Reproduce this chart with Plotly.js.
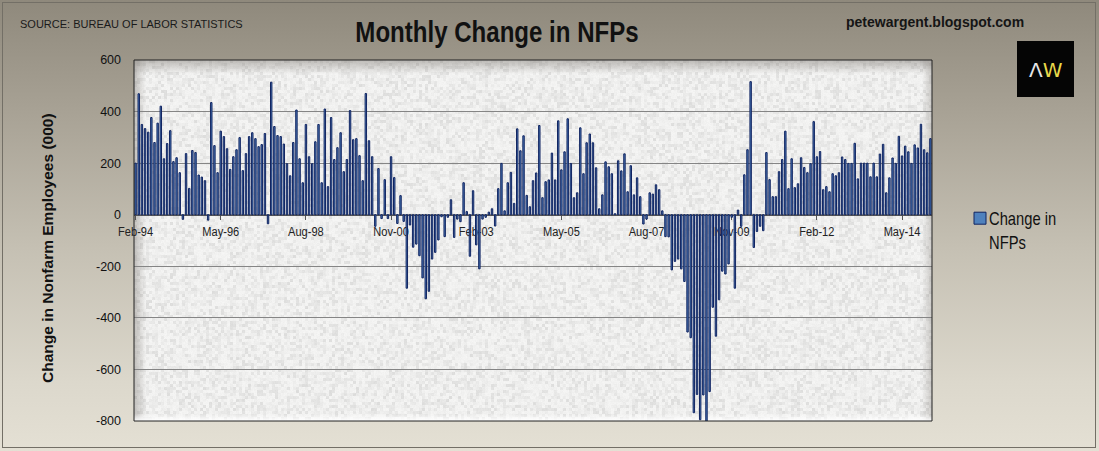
<!DOCTYPE html>
<html>
<head>
<meta charset="utf-8">
<script src="https://cdn.plot.ly/plotly-3.0.1.min.js"></script>
<style>
html, body { margin: 0; padding: 0; }
#wrap {
  position: relative; width: 1099px; height: 451px; overflow: hidden;
  background: linear-gradient(to bottom, #8f897c 0%, #a8a295 25%, #c5c0b3 55%, #dcd8cc 85%, #e4e0d4 100%);
}
#chart { position: absolute; left: 0; top: 0; width: 1099px; height: 451px; }
#frame {
  position: absolute; left: 2px; top: 2px; width: 1092px; height: 444px;
  border: 1px solid #736f66; pointer-events: none;
}
/* the reference uses a narrow face; squeeze the regular one */
#chart .gtitle { transform-box: fill-box; transform-origin: 50% 50%; transform: scaleX(0.83); }
#chart .legendtext { transform-box: fill-box; transform-origin: 0 50%; transform: translateX(-11px) scaleX(0.82); }
#chart .legendbar { transform: scale(0.72); }
#chart g.xtick { transform-box: fill-box; transform-origin: 50% 50%; transform: scaleX(0.82); }
</style>
</head>
<body>
<div id="wrap"><div id="chart"></div><div id="frame"></div></div>
<script>
// monthly change in nonfarm payrolls, thousands (Feb-94 .. Feb-15)
var nfp1994to1999 = [
  200, 469, 350, 334, 320, 377, 280, 355, 421, 217, 276,
  326, 206, 221, 163, -18, 237, 102, 249, 241, 154, 146, 132,
  -21, 435, 268, 163, 324, 303, 256, 176, 225, 252, 299, 171,
  237, 303, 318, 295, 264, 272, 315, -35, 514, 342, 307, 303,
  274, 198, 151, 280, 406, 217, 124, 350, 225, 198, 283, 350,
  124, 410, 109, 377, 214, 260, 318, 167, 214, 404, 291, 295
];
var nfp2000to2004 = [
  229, 132, 470, 287, 225, -45, 179, -15, 136, -15, 225, 144,
  -34, 74, -26, -285, -40, -126, -114, -159, -245, -326, -297, -172,
  -146, -98, -8, -85, -10, 58, -88, -17, -27, 124, 12, -161,
  93, -117, -210, -17, -10, 10, 23, -44, 101, 199, 15, 124,
  164, 44, 333, 248, 306, 75, 31, 132, 162, 346, 66, 128
];
var nfp2005to2009 = [
  135, 239, 135, 364, 174, 244, 372, 199, 66, 85, 337, 159,
  279, 313, 279, 182, 23, 77, 205, 186, 159, 4, 209, 170,
  236, 89, 190, 77, 143, 70, -36, -17, 85, 80, 116, 97,
  15, -85, -86, -214, -181, -172, -210, -259, -455, -477, -768, -697,
  -795, -699, -805, -686, -359, -471, -330, -219, -230, -191, -10, -285
];
var nfp2010to2015 = [
  18, -45, 155, 252, 516, -127, -65, -45, -62, 241, 136, 70,
  70, 167, 214, 324, 101, 217, 105, 120, 221, 183, 163, 198,
  361, 225, 245, 97, 109, 89, 159, 151, 163, 224, 214, 199,
  199, 277, 139, 200, 200, 200, 147, 200, 147, 235, 273, 85,
  143, 220, 199, 304, 228, 266, 244, 199, 271, 259, 351, 252,
  240, 295
];
var MONTHS = ['Jan','Feb','Mar','Apr','May','Jun','Jul','Aug','Sep','Oct','Nov','Dec'];
var tickLabels = ['Feb-94','May-96','Aug-98','Nov-00','Feb-03','May-05','Aug-07','Nov-09','Feb-12','May-14'];
var yTicks = [-800, -600, -400, -200, 0, 200, 400, 600];

var values = nfp1994to1999.concat(nfp2000to2004, nfp2005to2009, nfp2010to2015);
var months = [];
for (var i = 0; i < values.length; i++) {
  var k = i + 1; // series starts in Feb 1994
  months.push(MONTHS[k % 12] + '-' + String(1994 + Math.floor(k / 12)).slice(2));
}

// plot area in pixels
var L = 134, R = 932, T = 60, B = 421;
function px(x) { return (x - L) / (R - L); }
function py(y) { return (B - y) / (B - T); }

var NARROW = "'Liberation Sans Narrow', 'Arial Narrow', 'Liberation Sans', sans-serif";
var SANS = "'Liberation Sans', Arial, sans-serif";

// light mottled plot background with a soft bevel
function makeTexture(w, h) {
  var c = document.createElement('canvas');
  c.width = w; c.height = h;
  var ctx = c.getContext('2d');
  var img = ctx.createImageData(w, h);
  var seed = 987654;
  function rnd() { seed = (seed * 1103515245 + 12345) & 0x7fffffff; return seed / 0x7fffffff; }
  var cw = Math.ceil(w / 3) + 1, ch = Math.ceil(h / 3) + 1, cell = [];
  for (var j = 0; j < cw * ch; j++) cell.push(rnd());
  for (var y = 0; y < h; y++) {
    for (var x = 0; x < w; x++) {
      var r = cell[Math.floor(y / 3) * cw + Math.floor(x / 3)];
      var v = 246 - Math.pow(r, 2) * 22 - rnd() * 5;
      var p = (y * w + x) * 4;
      img.data[p] = v; img.data[p + 1] = v; img.data[p + 2] = v - 1; img.data[p + 3] = 255;
    }
  }
  ctx.putImageData(img, 0, 0);
  var g = ctx.createLinearGradient(0, 0, 0, 14);
  g.addColorStop(0, 'rgba(120,115,108,0.45)'); g.addColorStop(1, 'rgba(120,115,108,0)');
  ctx.fillStyle = g; ctx.fillRect(0, 0, w, 14);
  g = ctx.createLinearGradient(0, 0, 12, 0);
  g.addColorStop(0, 'rgba(120,115,108,0.4)'); g.addColorStop(1, 'rgba(120,115,108,0)');
  ctx.fillStyle = g; ctx.fillRect(0, 0, 12, h);
  g = ctx.createLinearGradient(w, 0, w - 10, 0);
  g.addColorStop(0, 'rgba(130,125,118,0.35)'); g.addColorStop(1, 'rgba(130,125,118,0)');
  ctx.fillStyle = g; ctx.fillRect(w - 10, 0, 10, h);
  g = ctx.createLinearGradient(0, h, 0, h - 7);
  g.addColorStop(0, 'rgba(255,255,255,0.95)'); g.addColorStop(1, 'rgba(255,255,255,0)');
  ctx.fillStyle = g; ctx.fillRect(0, h - 7, w, 7);
  return c.toDataURL();
}

var trace = {
  type: 'bar',
  name: 'Change in<br>NFPs',
  x: months,
  y: values,
  marker: { color: '#4f81bd', line: { color: '#112461', width: 1 } },
  hoverinfo: 'x+y'
};

var layout = {
  width: 1099,
  height: 451,
  margin: { l: L, r: 1099 - R, t: T, b: 451 - B, pad: 0, autoexpand: false },
  paper_bgcolor: 'rgba(0,0,0,0)',
  plot_bgcolor: 'rgba(0,0,0,0)',
  bargap: 0.55,
  showlegend: true,
  title: {
    text: '<b>Monthly Change in NFPs</b>',
    font: { family: NARROW, size: 29, color: '#111' },
    xref: 'container', x: 497 / 1099, xanchor: 'center',
    yref: 'container', y: 1 - 32 / 451, yanchor: 'middle'
  },
  xaxis: {
    type: 'category',
    range: [-0.5, values.length - 0.5],
    anchor: 'free',
    position: 800 / 1400,
    layer: 'below traces',
    showline: true, linecolor: '#555', linewidth: 1,
    showgrid: false,
    tickmode: 'array',
    tickvals: tickLabels,
    ticktext: tickLabels,
    ticks: 'outside', ticklen: 4, tickcolor: '#555',
    tickfont: { family: NARROW, size: 13.5, color: '#222' },
    fixedrange: true
  },
  yaxis: {
    range: [-800, 600],
    tickmode: 'array',
    tickvals: yTicks,
    ticktext: yTicks.map(String),
    showgrid: true, gridcolor: '#858585', gridwidth: 1,
    zeroline: false,
    ticks: '', ticklabelstandoff: 12,
    tickfont: { family: SANS, size: 12.5, color: '#111' },
    fixedrange: true
  },
  legend: {
    x: px(960), xanchor: 'left',
    y: py(200), yanchor: 'top',
    bgcolor: 'rgba(0,0,0,0)',
    valign: 'top',
    itemwidth: 30,
    font: { family: NARROW, size: 18, color: '#111' }
  },
  images: [{
    source: makeTexture(R - L, B - T),
    xref: 'paper', yref: 'paper', x: 0, y: 1, sizex: 1, sizey: 1,
    xanchor: 'left', yanchor: 'top', sizing: 'stretch', layer: 'below'
  }],
  shapes: [
    { type: 'rect', xref: 'paper', yref: 'paper', x0: 0, x1: 1, y0: 0, y1: 1,
      line: { color: '#222', width: 1 }, fillcolor: 'rgba(0,0,0,0)' },
    { type: 'rect', xref: 'paper', yref: 'paper', x0: px(1017), x1: px(1074), y0: py(97), y1: py(41),
      line: { width: 0 }, fillcolor: '#050505' }
  ],
  annotations: [
    { text: 'SOURCE: BUREAU OF LABOR STATISTICS', xref: 'paper', yref: 'paper',
      x: px(18), y: py(24), xanchor: 'left', yanchor: 'middle', showarrow: false,
      font: { family: SANS, size: 11, color: '#1a1a1a' } },
    { text: '<b>petewargent.blogspot.com</b>', xref: 'paper', yref: 'paper',
      x: px(935), y: py(22), xanchor: 'center', yanchor: 'middle', showarrow: false,
      font: { family: SANS, size: 14, color: '#151515' } },
    { text: "<span style='color:#e6e6e6'>Λ</span><span style='color:#e8d84a'>W</span>",
      xref: 'paper', yref: 'paper', x: px(1045.5), y: py(70), xanchor: 'center', yanchor: 'middle',
      showarrow: false, font: { family: "'DejaVu Sans', sans-serif", size: 20 } },
    { text: '<b>Change in Nonfarm Employees (000)</b>', xref: 'paper', yref: 'paper',
      x: px(47), y: py(248), xanchor: 'center', yanchor: 'middle', textangle: -90, showarrow: false,
      font: { family: SANS, size: 15.5, color: '#111' } }
  ]
};

var config = { displayModeBar: false, displaylogo: false, responsive: false };

Plotly.newPlot('chart', [trace], layout, config);
</script>
</body>
</html>
